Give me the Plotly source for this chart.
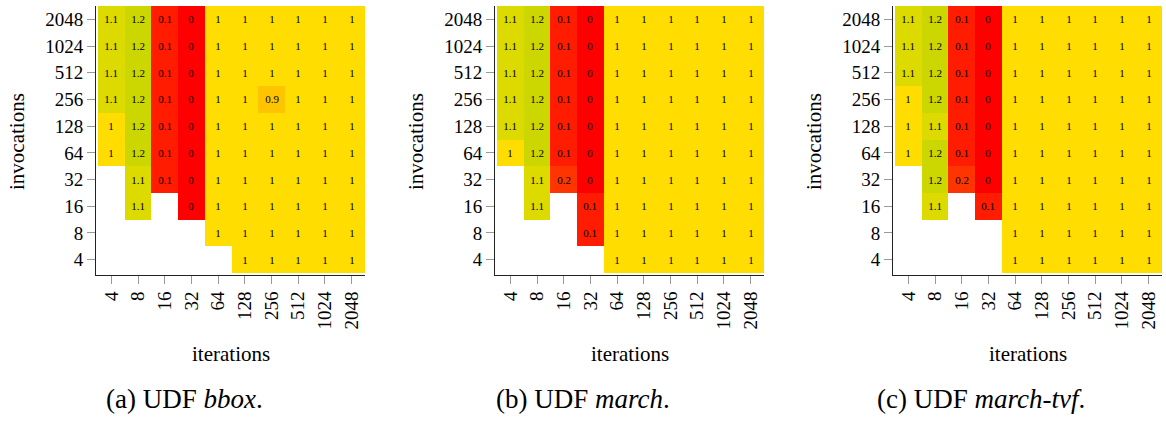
import plotly.graph_objects as go

iterations = ["4", "8", "16", "32", "64", "128", "256", "512", "1024", "2048"]
invocations = ["4", "8", "16", "32", "64", "128", "256", "512", "1024", "2048"]

N = None
# rows listed from top (invocations 2048) to bottom (invocations 4); columns = iterations 4..2048
bbox = [
    [1.1, 1.2, 0.1, 0, 1, 1, 1, 1, 1, 1],
    [1.1, 1.2, 0.1, 0, 1, 1, 1, 1, 1, 1],
    [1.1, 1.2, 0.1, 0, 1, 1, 1, 1, 1, 1],
    [1.1, 1.2, 0.1, 0, 1, 1, 0.9, 1, 1, 1],
    [1, 1.2, 0.1, 0, 1, 1, 1, 1, 1, 1],
    [1, 1.2, 0.1, 0, 1, 1, 1, 1, 1, 1],
    [N, 1.1, 0.1, 0, 1, 1, 1, 1, 1, 1],
    [N, 1.1, N, 0, 1, 1, 1, 1, 1, 1],
    [N, N, N, N, 1, 1, 1, 1, 1, 1],
    [N, N, N, N, N, 1, 1, 1, 1, 1],
]
march = [
    [1.1, 1.2, 0.1, 0, 1, 1, 1, 1, 1, 1],
    [1.1, 1.2, 0.1, 0, 1, 1, 1, 1, 1, 1],
    [1.1, 1.2, 0.1, 0, 1, 1, 1, 1, 1, 1],
    [1.1, 1.2, 0.1, 0, 1, 1, 1, 1, 1, 1],
    [1.1, 1.2, 0.1, 0, 1, 1, 1, 1, 1, 1],
    [1, 1.2, 0.1, 0, 1, 1, 1, 1, 1, 1],
    [N, 1.1, 0.2, 0, 1, 1, 1, 1, 1, 1],
    [N, 1.1, N, 0.1, 1, 1, 1, 1, 1, 1],
    [N, N, N, 0.1, 1, 1, 1, 1, 1, 1],
    [N, N, N, N, 1, 1, 1, 1, 1, 1],
]
march_tvf = [
    [1.1, 1.2, 0.1, 0, 1, 1, 1, 1, 1, 1],
    [1.1, 1.2, 0.1, 0, 1, 1, 1, 1, 1, 1],
    [1.1, 1.2, 0.1, 0, 1, 1, 1, 1, 1, 1],
    [1, 1.2, 0.1, 0, 1, 1, 1, 1, 1, 1],
    [1, 1.1, 0.1, 0, 1, 1, 1, 1, 1, 1],
    [1, 1.2, 0.1, 0, 1, 1, 1, 1, 1, 1],
    [N, 1.2, 0.2, 0, 1, 1, 1, 1, 1, 1],
    [N, 1.1, N, 0.1, 1, 1, 1, 1, 1, 1],
    [N, N, N, N, 1, 1, 1, 1, 1, 1],
    [N, N, N, N, 1, 1, 1, 1, 1, 1],
]
panels = [bbox, march, march_tvf]
captions = ["(a) UDF <i>bbox</i>.", "(b) UDF <i>march</i>.", "(c) UDF <i>march-tvf</i>."]

W, H = 1166, 421
FONT = "Liberation Serif, Times New Roman, Times, serif"
zmax = 1.2
colorscale = [
    [0.0, "#FF0000"],
    [0.1 / zmax, "#FF1C00"],
    [0.2 / zmax, "#FF3500"],
    [0.9 / zmax, "#FFC400"],
    [1.0 / zmax, "#FFDD00"],
    [1.1 / zmax, "#DDDA00"],
    [1.0, "#CCD600"],
]

def fmt(v):
    return "" if v is None else f"{v:g}"

fig = go.Figure()
offsets = [0, 399, 797]
for i, (data, cap, off) in enumerate(zip(panels, captions, offsets)):
    z = list(reversed(data))  # bottom row first
    text = [[fmt(v) for v in row] for row in z]
    sfx = "" if i == 0 else str(i + 1)
    fig.add_trace(go.Heatmap(
        z=z, x=list(range(len(iterations))), y=list(range(len(invocations))),
        text=text, texttemplate="%{text}",
        textfont=dict(family=FONT, size=11, color="black"),
        colorscale=colorscale, zmin=0, zmax=zmax, showscale=False,
        xaxis="x" + sfx, yaxis="y" + sfx, hoverongaps=False,
    ))
    x0, x1 = 96 + off, 365 + off
    axcommon = dict(
        showgrid=False, zeroline=False, showline=True, linecolor="#222", linewidth=1,
        ticks="outside", ticklen=8, tickcolor="#999",
        tickfont=dict(family=FONT, size=19, color="black"),
        tickmode="array", fixedrange=True,
    )
    fig.layout["xaxis" + sfx] = dict(
        axcommon, domain=[x0 / W, x1 / W], anchor="y" + sfx,
        range=[-0.575, 9.5], tickvals=list(range(10)), ticktext=iterations, tickangle=-90,
    )
    fig.layout["yaxis" + sfx] = dict(
        axcommon, domain=[1 - 275 / H, 1 - 6 / H], anchor="x" + sfx,
        range=[-0.575, 9.5], tickvals=list(range(10)), ticktext=invocations,
    )
    ann = dict(xref="paper", yref="paper", showarrow=False, xanchor="center", yanchor="middle")
    fig.add_annotation(ann, x=(17 + off) / W, y=1 - 142 / H,
                       text="invocations", textangle=-90,
                       font=dict(family=FONT, size=21, color="black"))
    fig.add_annotation(ann, x=(231 + off) / W, y=1 - 354 / H,
                       text="iterations",
                       font=dict(family=FONT, size=21, color="black"))
    fig.add_annotation(ann, x=(184 + off) / W, y=1 - 399 / H,
                       text=cap,
                       font=dict(family=FONT, size=27, color="black"))

fig.update_layout(
    width=W, height=H, autosize=False,
    margin=dict(l=0, r=0, t=0, b=0),
    paper_bgcolor="white", plot_bgcolor="white",
    showlegend=False,
)
fig.write_html("out.html")
